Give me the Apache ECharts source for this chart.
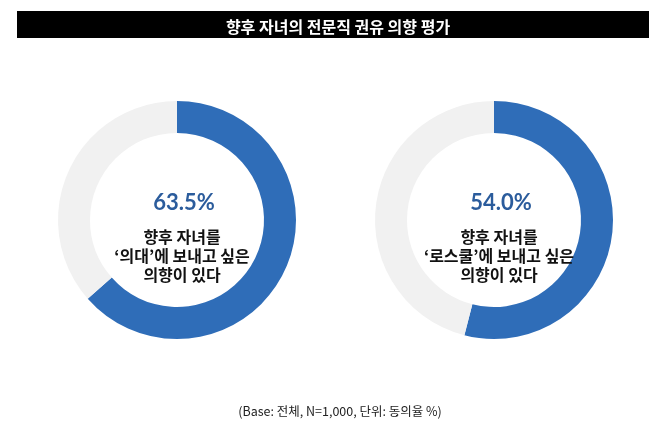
<!DOCTYPE html>
<html>
<head>
<meta charset="utf-8">
<script src="https://cdn.jsdelivr.net/npm/echarts@6/dist/echarts.min.js"></script>
<style>
  html, body { margin: 0; padding: 0; background: #fff; }
  #chart { width: 658px; height: 432px; }
</style>
</head>
<body>
<div id="chart"></div>
<script>
// 데이터
const chartTitle = '향후 자녀의 전문직 권유 의향 평가'
const groups = ['의대', '로스쿨']
const agreeRates = [63.5, 54.0]
const captions = [
  '향후 자녀를\n‘의대’에 보내고 싶은\n의향이 있다',
  '향후 자녀를\n‘로스쿨’에 보내고 싶은\n의향이 있다'
]
const footnote = '(Base: 전체, N=1,000, 단위: 동의율 %)'

const centersX = [177, 494]
const centerY = 220

const chart = echarts.init(document.getElementById('chart'))

const series = agreeRates.map((v, i) => ({
  name: groups[i],
  type: 'pie',
  center: [centersX[i], centerY],
  radius: [87, 119],
  startAngle: 90,
  clockwise: true,
  silent: true,
  label: { show: false },
  labelLine: { show: false },
  data: [
    { name: '동의', value: v, itemStyle: { color: '#2F6DB8' } },
    { name: '비동의', value: +(100 - v).toFixed(1), itemStyle: { color: '#F1F1F1' } }
  ]
}))

const titles = [
  {
    text: chartTitle,
    left: 333,
    top: 14,
    textAlign: 'center',
    textStyle: { color: '#fff', fontSize: 16, fontWeight: 'bold', fontFamily: 'Noto Sans CJK KR' }
  },
  {
    text: footnote,
    left: 335,
    top: 400,
    textAlign: 'center',
    textStyle: { color: '#222', fontSize: 12.5, fontWeight: 'normal', fontFamily: 'Noto Sans CJK KR' }
  }
]
agreeRates.forEach((v, i) => {
  titles.push({
    text: v.toFixed(1) + '%',
    left: centersX[i] + 2,
    top: 187,
    textAlign: 'center',
    textStyle: { color: '#2B5C9C', fontSize: 22, fontWeight: 'bold', fontFamily: 'Lato' }
  })
  titles.push({
    text: captions[i],
    left: centersX[i],
    top: 222,
    textAlign: 'center',
    textStyle: { color: '#111', fontSize: 16, fontWeight: 'bold', lineHeight: 19, fontFamily: 'Noto Sans CJK KR' }
  })
})

chart.setOption({
  animation: false,
  backgroundColor: '#fff',
  graphic: [
    { type: 'rect', z: -1, shape: { x: 17, y: 11, width: 632, height: 27 }, style: { fill: '#000' } }
  ],
  title: titles,
  series
})
</script>
</body>
</html>
